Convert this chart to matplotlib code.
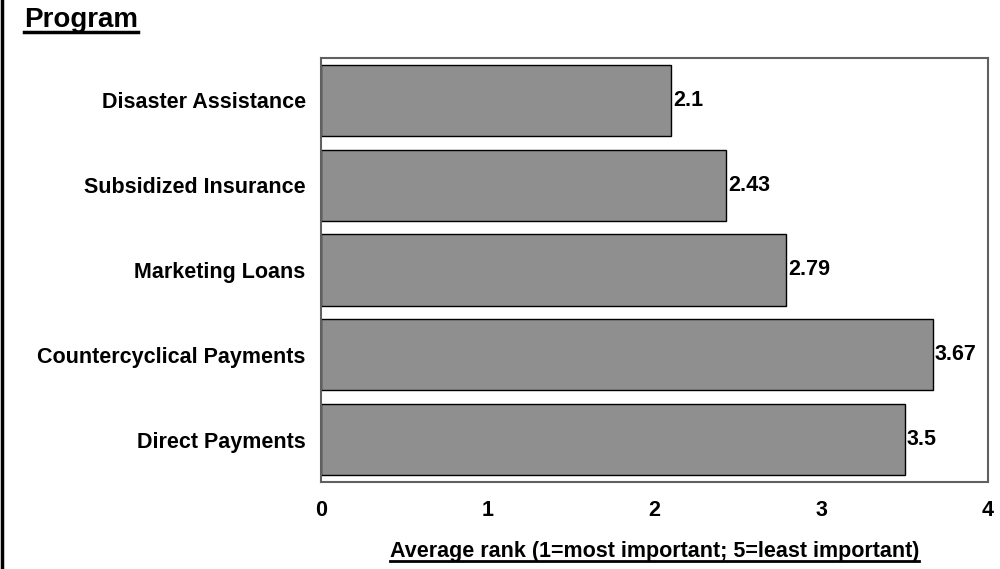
import matplotlib
matplotlib.use("Agg")
import matplotlib.pyplot as plt
from matplotlib.lines import Line2D

programs = ["Disaster Assistance", "Subsidized Insurance", "Marketing Loans",
            "Countercyclical Payments", "Direct Payments"]
ranks = [2.1, 2.43, 2.79, 3.67, 3.5]
rank_labels = ["2.1", "2.43", "2.79", "3.67", "3.5"]
xticks = [0, 1, 2, 3, 4]

plt.rcParams['font.family'] = ['Liberation Sans', 'DejaVu Sans']
plt.rcParams['font.weight'] = 'bold'
fs = 15.5

fig = plt.figure(figsize=(10, 5.69), dpi=100)
ax = fig.add_axes([0.321, 0.153, 0.667, 0.745])

ypos = list(range(len(programs)))
ax.barh(ypos, ranks, height=0.84, color="#8f8f8f", edgecolor="black", linewidth=1)
for y, v, s in zip(ypos, ranks, rank_labels):
    ax.text(v + 0.01, y, s, va="center", ha="left", fontsize=fs, fontweight="bold")

ax.set_xlim(0, 4)
ax.set_ylim(4.5, -0.5)
ax.set_xticks(xticks)
ax.set_xticklabels([str(t) for t in xticks], fontsize=fs, fontweight="bold")
ax.set_yticks(ypos)
ax.set_yticklabels(programs, fontsize=fs, fontweight="bold")
ax.tick_params(axis="both", length=0)
ax.tick_params(axis="x", pad=13)
ax.tick_params(axis="y", pad=11)
for sp in ax.spines.values():
    sp.set_color("#606060")
    sp.set_linewidth(1.5)

# border on the left side of the figure
fig.add_artist(Line2D([0.002, 0.002], [0, 1], color="black", linewidth=2.5,
                      transform=fig.transFigure))

title = fig.text(0.024, 0.965, "Program", fontsize=20, fontweight="bold",
                 ha="left", va="center")
xlab = fig.text(0.6545, 0.031, "Average rank (1=most important; 5=least important)",
                fontsize=fs, fontweight="bold", ha="center", va="center")

# underline the two texts
fig.canvas.draw()
r = fig.canvas.get_renderer()
for t, lw in [(title, 2.5), (xlab, 2)]:
    bb = t.get_window_extent(r).transformed(fig.transFigure.inverted())
    yl = bb.y0 + 0.001
    fig.add_artist(Line2D([bb.x0, bb.x1], [yl, yl], color="black", linewidth=lw,
                          transform=fig.transFigure))

fig.savefig("out.png", dpi=100)
